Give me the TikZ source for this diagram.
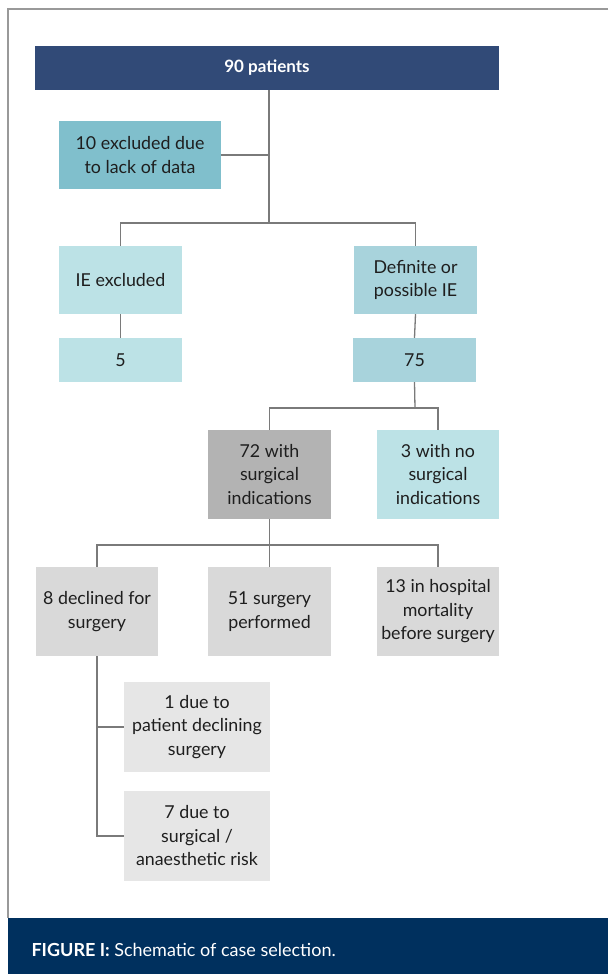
\documentclass[tikz,border=0pt]{standalone}
\usepackage{fontspec}
\setmainfont{Lato}
\usepackage{tikz}
\usetikzlibrary{positioning}

\definecolor{navy}{HTML}{314A77}
\definecolor{footnavy}{HTML}{00305E}
\definecolor{tealdark}{HTML}{80BFCC}
\definecolor{tealmid}{HTML}{A8D3DC}
\definecolor{teallight}{HTML}{BCE2E6}
\definecolor{greydark}{HTML}{B3B3B3}
\definecolor{greymid}{HTML}{D9D9D9}
\definecolor{greylight}{HTML}{E6E6E6}
\definecolor{linkgrey}{HTML}{7A7A7A}
\definecolor{textgrey}{HTML}{1E1E1E}

\begin{document}
\begin{tikzpicture}[x=1pt,y=-1pt,
    box/.style={rectangle,inner sep=0pt,align=center,text=textgrey,
      font=\fontsize{17.8}{23.5}\selectfont},
    link/.style={draw=linkgrey,line width=1.3pt}]

\useasboundingbox (0,0) rectangle (608,974);
\draw[draw=gray!80,line width=1.5pt] (608,9) -- (8,9) -- (8,918);

% footer
\fill[footnavy] (8,918) rectangle (608,974);
\node[anchor=west,text=white,font=\fontsize{18}{22}\selectfont] (caption) at (28,950)
  {\textbf{FIGURE I:} Schematic of case selection.};

% boxes
\node[box,fill=navy,text=white,minimum width=463.5pt,minimum height=44pt,
  font=\bfseries\fontsize{17}{23}\selectfont] (top) at (267,68) {90 patients};
\node[box,fill=tealdark,minimum width=162pt,minimum height=68pt] (excl) at (140,155)
  {10 excluded due\\to lack of data};
\node[box,fill=teallight,minimum width=123pt,minimum height=68pt] (ieexc) at (120.5,280)
  {IE excluded};
\node[box,fill=tealmid,minimum width=123pt,minimum height=68pt] (defie) at (415.5,280)
  {Definite or\\possible IE};
\node[box,fill=teallight,minimum width=123pt,minimum height=44pt] (five) at (120.5,360) {5};
\node[box,fill=tealmid,minimum width=123pt,minimum height=44pt] (sevfive) at (414.5,360) {75};
\node[box,fill=greydark,minimum width=123pt,minimum height=89pt] (surg) at (269.5,474.5)
  {72 with\\surgical\\indications};
\node[box,fill=teallight,minimum width=122pt,minimum height=89pt] (nosurg) at (438,474.5)
  {3 with no\\surgical\\indications};
\node[box,fill=greymid,minimum width=122pt,minimum height=89pt] (decl) at (97,611.5)
  {8 declined for\\surgery};
\node[box,fill=greymid,minimum width=123pt,minimum height=89pt] (perf) at (269.5,611.5)
  {51 surgery\\performed};
\node[box,fill=greymid,minimum width=122pt,minimum height=89pt] (mort) at (438,611.5)
  {13 in hospital\\mortality\\before surgery};
\node[box,fill=greylight,minimum width=146pt,minimum height=90pt] (pat) at (197,727)
  {1 due to\\patient declining\\surgery};
\node[box,fill=greylight,minimum width=146pt,minimum height=90pt] (risk) at (197,836)
  {7 due to\\surgical /\\anaesthetic risk};

% split points
\coordinate (split1) at (269,223);
\coordinate (split2) at (415,408);
\coordinate (split3) at (269.5,545);

% connectors
\draw[link] (top.south -| split1) -- (split1);
\draw[link] (excl.east) -- (excl.east -| split1);
\draw[link] (ieexc.north) |- (split1) -| (defie.north);
\draw[link] (ieexc.south) -- (five.north);
\draw[link] (defie.south) -- (sevfive.north);
\draw[link] (sevfive.south) -- (split2);
\draw[link] (surg.north) |- (split2) -| (nosurg.north);
\draw[link] (surg.south) -- (split3);
\draw[link] (decl.north) |- (split3) -| (mort.north);
\draw[link] (perf.north) -- (perf.north |- split3);
\draw[link] (decl.south) |- (risk.west);
\draw[link] (pat.west) -- (pat.west -| decl.south);

\end{tikzpicture}
\end{document}
